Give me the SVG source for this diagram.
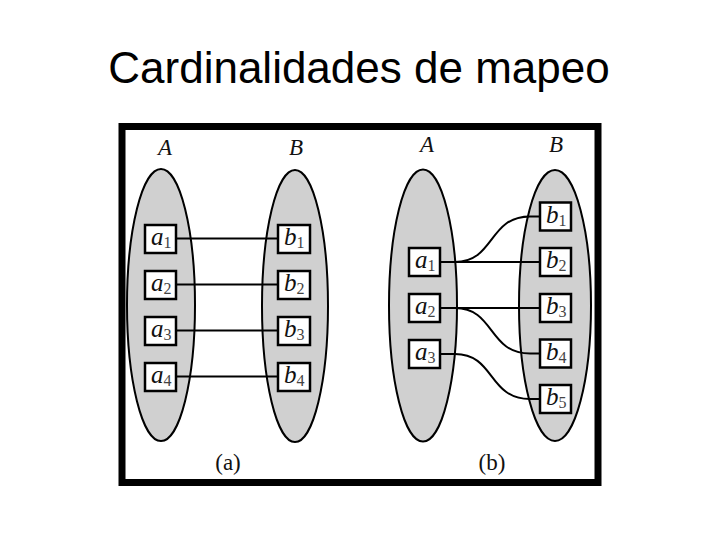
<svg xmlns="http://www.w3.org/2000/svg" width="720" height="540" viewBox="0 0 720 540">
<style>
.title{font-family:"Liberation Sans",Arial,sans-serif;font-size:44px;fill:#000}
.set{fill:#d0d0d0;stroke:#000;stroke-width:2}
.box{fill:#fff;stroke:#000;stroke-width:2.5}
.lbl{font-family:"Liberation Serif","Times New Roman",serif;font-style:italic;font-size:25px;fill:#111}
.sub{font-style:normal;font-size:16px;fill:#444}
.hd{font-family:"Liberation Serif","Times New Roman",serif;font-style:italic;font-size:23px;fill:#111;text-anchor:middle}
.cap{font-family:"Liberation Serif","Times New Roman",serif;font-size:23px;fill:#111;text-anchor:middle}
.ln{fill:none;stroke:#000;stroke-width:2}
</style>
<rect width="720" height="540" fill="#fff"/>
<text class="title" x="359" y="83" text-anchor="middle">Cardinalidades de mapeo</text>
<rect x="122" y="126.5" width="476" height="356" fill="none" stroke="#000" stroke-width="7"/>

<g id="panel-a-sets">
<ellipse class="set" cx="161" cy="305" rx="34" ry="136"/>
<ellipse class="set" cx="295" cy="306" rx="33" ry="136"/>
<text class="hd" x="165" y="155">A</text>
<text class="hd" x="296" y="155">B</text>
<text class="cap" x="228" y="470">(a)</text>
</g>
<g id="panel-b-sets">
<ellipse class="set" cx="423" cy="305.5" rx="34" ry="136"/>
<ellipse class="set" cx="555" cy="305.5" rx="36" ry="135.5"/>
<text class="hd" x="427" y="152">A</text>
<text class="hd" x="556" y="152">B</text>
<text class="cap" x="492" y="470">(b)</text>
</g>

<g id="connectors">
<line class="ln" x1="176" y1="238.5" x2="278" y2="238.5"/>
<line class="ln" x1="176" y1="284.5" x2="278" y2="284.5"/>
<line class="ln" x1="176" y1="330.5" x2="278" y2="330.5" stroke-width="3"/>
<line class="ln" x1="176" y1="376.5" x2="278" y2="376.5"/>
<path class="ln" d="M440,262 L455,262 C495,262 488,216.5 530,216.5 L540,216.5"/>
<line class="ln" x1="440" y1="262" x2="540" y2="262" stroke-width="2.5"/>
<line class="ln" x1="440" y1="308" x2="540" y2="308" stroke-width="2.5"/>
<path class="ln" d="M440,308 L455,308 C495,308 488,353.5 530,353.5 L540,353.5"/>
<path class="ln" d="M440,354 L455,354 C495,354 488,399 530,399 L540,399"/>
</g>

<g id="a-a1"><rect class="box" x="145" y="225" width="31" height="28"/><text class="lbl" x="151" y="245">a<tspan class="sub" dy="3">1</tspan></text></g>
<g id="a-a2"><rect class="box" x="145" y="271" width="31" height="28"/><text class="lbl" x="151" y="291">a<tspan class="sub" dy="3">2</tspan></text></g>
<g id="a-a3"><rect class="box" x="145" y="317" width="31" height="28"/><text class="lbl" x="151" y="337">a<tspan class="sub" dy="3">3</tspan></text></g>
<g id="a-a4"><rect class="box" x="145" y="363" width="31" height="28"/><text class="lbl" x="151" y="383">a<tspan class="sub" dy="3">4</tspan></text></g>
<g id="a-b1"><rect class="box" x="278" y="225" width="32" height="28"/><text class="lbl" x="284" y="245">b<tspan class="sub" dy="3">1</tspan></text></g>
<g id="a-b2"><rect class="box" x="278" y="271" width="32" height="28"/><text class="lbl" x="284" y="291">b<tspan class="sub" dy="3">2</tspan></text></g>
<g id="a-b3"><rect class="box" x="278" y="317" width="32" height="28"/><text class="lbl" x="284" y="337">b<tspan class="sub" dy="3">3</tspan></text></g>
<g id="a-b4"><rect class="box" x="278" y="363" width="32" height="28"/><text class="lbl" x="284" y="383">b<tspan class="sub" dy="3">4</tspan></text></g>

<g id="b-a1"><rect class="box" x="409" y="248" width="31" height="28"/><text class="lbl" x="415" y="268">a<tspan class="sub" dy="3">1</tspan></text></g>
<g id="b-a2"><rect class="box" x="409" y="294" width="31" height="28"/><text class="lbl" x="415" y="314">a<tspan class="sub" dy="3">2</tspan></text></g>
<g id="b-a3"><rect class="box" x="409" y="340" width="31" height="28"/><text class="lbl" x="415" y="360">a<tspan class="sub" dy="3">3</tspan></text></g>
<g id="b-b1"><rect class="box" x="540" y="202.5" width="31" height="28"/><text class="lbl" x="546" y="222.5">b<tspan class="sub" dy="3">1</tspan></text></g>
<g id="b-b2"><rect class="box" x="540" y="248" width="31" height="28"/><text class="lbl" x="546" y="268">b<tspan class="sub" dy="3">2</tspan></text></g>
<g id="b-b3"><rect class="box" x="540" y="294" width="31" height="28"/><text class="lbl" x="546" y="314">b<tspan class="sub" dy="3">3</tspan></text></g>
<g id="b-b4"><rect class="box" x="540" y="339.5" width="31" height="28"/><text class="lbl" x="546" y="359.5">b<tspan class="sub" dy="3">4</tspan></text></g>
<g id="b-b5"><rect class="box" x="540" y="385" width="31" height="28"/><text class="lbl" x="546" y="405">b<tspan class="sub" dy="3">5</tspan></text></g>
</svg>
